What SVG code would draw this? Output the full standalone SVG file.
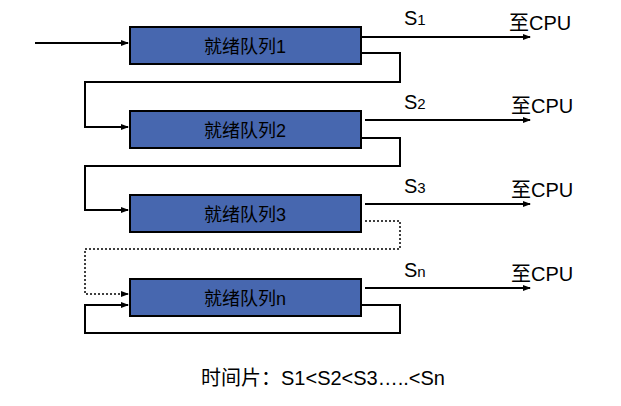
<svg xmlns="http://www.w3.org/2000/svg" width="621" height="406" viewBox="0 0 621 406">
<defs>
<marker id="a" markerWidth="8" markerHeight="6" refX="7" refY="3" orient="auto" markerUnits="userSpaceOnUse"><path d="M0,0 L8,3 L0,6 z" fill="#000"/></marker>
<style>
.b{fill:#4767AF;stroke:#000;stroke-width:2}
.t{font-family:"Liberation Sans","Noto Sans CJK SC",sans-serif;font-size:18px;fill:#000}
.c{fill:none;stroke:#000;stroke-width:2}
.d{fill:none;stroke:#000;stroke-width:1.5;stroke-dasharray:2 2}
</style>
</defs>
<rect width="621" height="406" fill="#fff"/>
<g id="q1"><rect class="b" x="130" y="27" width="231" height="37"/><text class="t" x="245" y="53" text-anchor="middle">就绪队列1</text></g>
<g id="q2"><rect class="b" x="130" y="111" width="231" height="37"/><text class="t" x="245" y="137" text-anchor="middle">就绪队列2</text></g>
<g id="q3"><rect class="b" x="130" y="195" width="231" height="37"/><text class="t" x="245" y="221" text-anchor="middle">就绪队列3</text></g>
<g id="qn"><rect class="b" x="130" y="279" width="231" height="37"/><text class="t" x="245" y="305" text-anchor="middle">就绪队列n</text></g>
<g id="connectors">
<path class="c" d="M35,43 H128" marker-end="url(#a)"/>
<path class="c" d="M361,37 H530" marker-end="url(#a)"/>
<path class="c" d="M365,120 H530" marker-end="url(#a)"/>
<path class="c" d="M365,204 H530" marker-end="url(#a)"/>
<path class="c" d="M365,288 H530" marker-end="url(#a)"/>
<path class="c" d="M361,53 H400 V82 H85 V127 H128" marker-end="url(#a)"/>
<path class="c" d="M361,138 H400 V166 H85 V210 H128" marker-end="url(#a)"/>
<path class="d" d="M365,221 H400 V249 H85 V294 H128" marker-end="url(#a)"/>
<path class="c" d="M361,305 H400 V333 H85 V305 H128" marker-end="url(#a)"/>
</g>
<g class="t" font-size="20">
<text x="404" y="25" style="font-size:20px">S<tspan font-size="15">1</tspan></text>
<text x="404" y="109" style="font-size:20px">S<tspan font-size="15">2</tspan></text>
<text x="404" y="193" style="font-size:20px">S<tspan font-size="15">3</tspan></text>
<text x="404" y="277" style="font-size:20px">S<tspan font-size="15">n</tspan></text>
<text x="509" y="30" style="font-size:20px">至CPU</text>
<text x="511" y="113" style="font-size:20px">至CPU</text>
<text x="511" y="197" style="font-size:20px">至CPU</text>
<text x="511" y="281" style="font-size:20px">至CPU</text>
<text x="323" y="385" text-anchor="middle" style="font-size:20px">时间片：S1&lt;S2&lt;S3…..&lt;Sn</text>
</g>
</svg>
